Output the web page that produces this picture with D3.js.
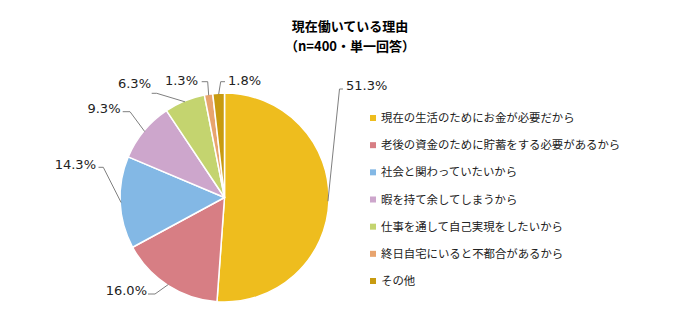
<!DOCTYPE html>
<html><head><meta charset="utf-8">
<script src="https://cdn.jsdelivr.net/npm/d3@7"></script>
<style>
html,body{margin:0;padding:0;background:#fff;}
svg{display:block;}
</style></head>
<body>
<svg id="chart" width="677" height="325"></svg>
<script>
// ---- data ----
const categories = [
  "現在の生活のためにお金が必要だから",
  "老後の資金のために貯蓄をする必要があるから",
  "社会と関わっていたいから",
  "暇を持て余してしまうから",
  "仕事を通して自己実現をしたいから",
  "終日自宅にいると不都合があるから",
  "その他"
];
const values = [51.3, 16.0, 14.3, 9.3, 6.3, 1.3, 1.8];
const valueLabels = ["51.3%", "16.0%", "14.3%", "9.3%", "6.3%", "1.3%", "1.8%"];
const titleLines = ["現在働いている理由", "（n=400・単一回答）"];

// ---- style / layout ----
const colors = ["#EEBD1E", "#D77E84", "#83B8E5", "#CDA6CC", "#C4D46F", "#E8A46E", "#C89B10"];
const cx = 224.5, cy = 197.5, R = 104.5;
// label layout: text position and elbow points (layout only)
const labelLayout = [
  {tx: 346, ty: 90, anchor: "start", p1: [343, 89], p2: [339.5, 89]},
  {tx: 147, ty: 295, anchor: "end", p1: [148, 294], p2: [155, 294]},
  {tx: 96, ty: 169, anchor: "end", p1: [98.5, 167.3], p2: [103.3, 167.3]},
  {tx: 120.5, ty: 113, anchor: "end", p1: [122.7, 111.7], p2: [130, 111.7]},
  {tx: 151, ty: 88, anchor: "end", p1: [151.7, 93.3], p2: [156.7, 93.3]},
  {tx: 198, ty: 85, anchor: "end", p1: [201.7, 81.7], p2: [207.7, 81.7]},
  {tx: 228, ty: 85, anchor: "start", p1: [225, 81.7], p2: [220.7, 81.7]}
];

const svg = d3.select("#chart");

// title
svg.append("g").selectAll("text").data(titleLines).join("text")
  .attr("x", 350).attr("y", (d, i) => 30.5 + i * 20.5)
  .attr("text-anchor", "middle")
  .attr("font-family", "'Noto Sans CJK JP', sans-serif")
  .attr("font-weight", "bold").attr("font-size", 13)
  .attr("fill", "#000")
  .text(d => d);

const pie = d3.pie().sort(null).value(d => d)(values);
const arc = d3.arc().innerRadius(0).outerRadius(R);
const g = svg.append("g").attr("transform", `translate(${cx},${cy})`);
g.selectAll("path").data(pie).join("path")
  .attr("d", arc)
  .attr("fill", (d, i) => colors[i])
  .attr("stroke", "#fff").attr("stroke-width", 1.5).attr("stroke-linejoin", "round");

// leader lines and labels
const edgeArc = d3.arc().innerRadius(R - 1).outerRadius(R - 1);
const lines = svg.append("g");
pie.forEach((d, i) => {
  const L = labelLayout[i];
  const c = edgeArc.centroid(d);
  const pt = [cx + c[0], cy + c[1]];
  lines.append("path")
    .attr("d", d3.line()([L.p1, L.p2, pt]))
    .attr("fill", "none").attr("stroke", "#7F7F7F").attr("stroke-width", 1);
  lines.append("text")
    .attr("x", L.tx).attr("y", L.ty)
    .attr("text-anchor", L.anchor)
    .attr("font-family", "'DejaVu Sans', Verdana, sans-serif")
    .attr("font-size", 13).attr("fill", "#222")
    .text(valueLabels[i]);
});

// legend
const ly = d3.scaleLinear().domain([0, categories.length - 1]).range([118, 281]);
const leg = svg.append("g").selectAll("g").data(categories).join("g")
  .attr("transform", (d, i) => `translate(370,${ly(i)})`);
leg.append("rect").attr("x", 0).attr("y", -3).attr("width", 6).attr("height", 6)
  .attr("fill", (d, i) => colors[i]);
leg.append("text").attr("x", 11).attr("y", 0).attr("dy", "0.36em")
  .attr("font-family", "'Noto Sans CJK JP', sans-serif")
  .attr("font-size", 11.4).attr("fill", "#222")
  .text(d => d);
</script>
</body></html>
